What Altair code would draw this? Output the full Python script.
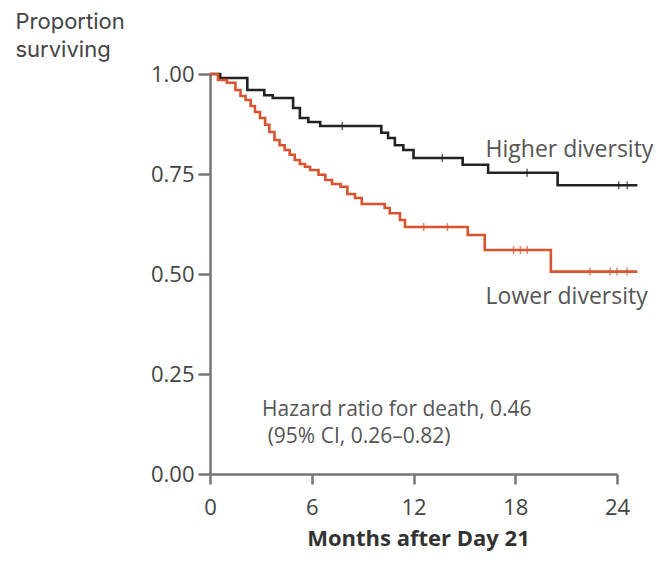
import altair as alt
import pandas as pd

# Kaplan-Meier step points (months, proportion surviving)
hi_t = [0, 0.6, 2.2, 3.2, 3.7, 4.9, 5.3, 5.8, 6.5, 10.1, 10.5, 10.9, 11.4, 12.0, 14.9, 16.4, 20.5, 25.2]
hi_s = [1.0, 0.99, 0.96, 0.947, 0.94, 0.915, 0.89, 0.88, 0.87, 0.853, 0.84, 0.822, 0.81, 0.79, 0.773, 0.753, 0.722, 0.722]
hi_cens = [7.8, 13.7, 18.7, 24.1, 24.6]

lo_t = [0, 0.47, 1.0, 1.5, 1.8, 2.1, 2.4, 2.65, 2.95, 3.25, 3.5, 3.8, 4.1, 4.4, 4.7, 5.0, 5.3, 5.6, 5.9,
        6.4, 6.8, 7.2, 7.7, 8.1, 8.55, 8.95, 10.3, 10.6, 11.2, 11.5, 15.2, 16.2, 20.1, 25.2]
lo_s = [1.0, 0.985, 0.978, 0.96, 0.945, 0.935, 0.92, 0.905, 0.89, 0.873, 0.855, 0.835, 0.822, 0.81, 0.798,
        0.785, 0.775, 0.768, 0.76, 0.748, 0.735, 0.725, 0.718, 0.70, 0.69, 0.675, 0.665, 0.652, 0.635,
        0.6175, 0.5975, 0.56, 0.506, 0.506]
lo_cens = [12.6, 14.0, 17.9, 18.3, 18.7, 22.4, 23.6, 24.0, 24.6]

groups = ["Higher diversity", "Lower diversity"]
colors = ["#222222", "#d9532f"]

x_ticks = [0, 6, 12, 18, 24]
y_ticks = [0, 0.25, 0.5, 0.75, 1.0]

label_text = ["Higher diversity", "Lower diversity"]
label_x = [16.25, 16.25]
label_y = [0.81, 0.4425]

hr_text = ["Hazard ratio for death, 0.46", "(95% CI, 0.26\u20130.82)"]
hr_x = [3.07, 3.4]
hr_y = [0.16, 0.0925]


def step_value(ts, ss, t):
    v = ss[0]
    for ti, si in zip(ts, ss):
        if ti <= t:
            v = si
    return v


rows = []
for t, s in zip(hi_t, hi_s):
    rows.append({"t": t, "s": s, "g": groups[0]})
for t, s in zip(lo_t, lo_s):
    rows.append({"t": t, "s": s, "g": groups[1]})
curves = pd.DataFrame(rows)

crow = []
for t in hi_cens:
    crow.append({"t": t, "s": step_value(hi_t, hi_s, t), "g": groups[0]})
for t in lo_cens:
    crow.append({"t": t, "s": step_value(lo_t, lo_s, t), "g": groups[1]})
cens = pd.DataFrame(crow)

labels = pd.DataFrame({"text": label_text, "x": label_x, "y": label_y})
hr = pd.DataFrame({"text": hr_text, "x": hr_x, "y": hr_y})

xscale = alt.Scale(domain=[0, 24], nice=False)
yscale = alt.Scale(domain=[0, 1], nice=False)
cscale = alt.Scale(domain=groups, range=colors)

xaxis = alt.Axis(values=x_ticks, title="Months after Day 21", grid=False,
                 labelFontSize=22, labelColor="#444", labelFont="Open Sans",
                 labelPadding=13, tickSize=10, tickColor="#777", tickWidth=2.5,
                 labelFlush=False,
                 domainColor="#777", domainWidth=2.5,
                 titleFont="Open Sans", titleFontSize=22, titleFontWeight="bold",
                 titleColor="#333", titlePadding=10, titleX=208, titleAlign="center")
yaxis = alt.Axis(values=y_ticks, format=".2f", title=["Proportion", "surviving"], grid=False,
                 labelFontSize=22, labelColor="#444", labelFont="Open Sans",
                 labelPadding=4, tickSize=12, tickColor="#777", tickWidth=2.5,
                 labelFlush=False,
                 domainColor="#777", domainWidth=2.5,
                 titleAngle=0, titleAlign="left", titleBaseline="alphabetic",
                 titleX=-195, titleY=-46, titleFont="Inter", titleFontSize=22,
                 titleFontWeight="normal", titleColor="#444", titleLineHeight=28)

lines = alt.Chart(curves).mark_line(interpolate="step-after", strokeWidth=2.6, clip=False).encode(
    x=alt.X("t:Q", scale=xscale, axis=xaxis),
    y=alt.Y("s:Q", scale=yscale, axis=yaxis),
    color=alt.Color("g:N", scale=cscale, legend=None),
)

ticks = alt.Chart(cens).mark_tick(orient="vertical", size=8, thickness=1.5, clip=False).encode(
    x=alt.X("t:Q", scale=xscale),
    y=alt.Y("s:Q", scale=yscale),
    color=alt.Color("g:N", scale=cscale, legend=None),
)

lab = alt.Chart(labels).mark_text(align="left", baseline="middle", font="Open Sans",
                                  fontSize=23, color="#555").encode(
    x=alt.X("x:Q", scale=xscale), y=alt.Y("y:Q", scale=yscale), text="text:N")

hrt = alt.Chart(hr).mark_text(align="left", baseline="middle", font="Open Sans",
                              fontSize=21, color="#555").encode(
    x=alt.X("x:Q", scale=xscale), y=alt.Y("y:Q", scale=yscale), text="text:N")

chart = alt.layer(lines, ticks, lab, hrt).properties(
    width=407, height=400, autosize="none",
    padding={"left": 202, "top": 66, "right": 40, "bottom": 81},
).configure_view(stroke=None)

chart.save("out.html", embed_options={"renderer": "svg", "actions": False})
